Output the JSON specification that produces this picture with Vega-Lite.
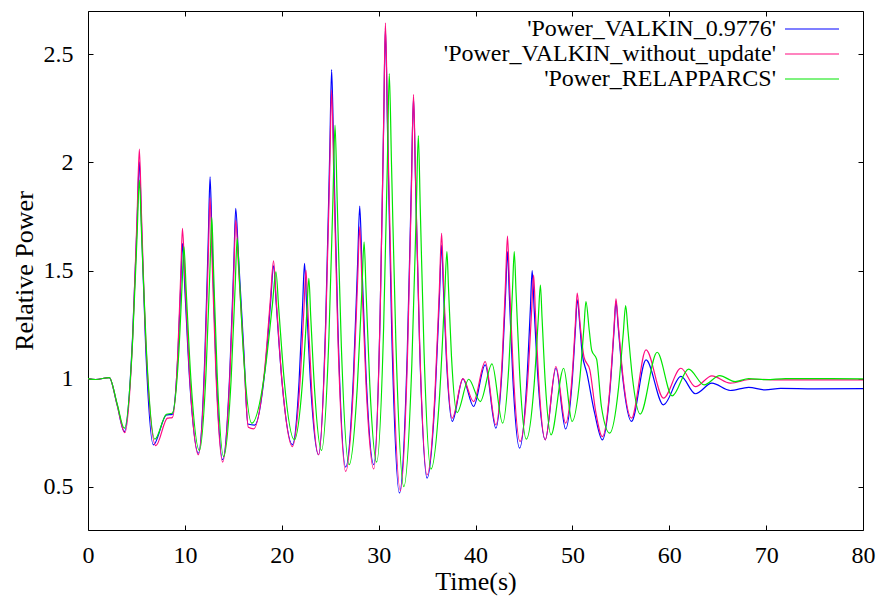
{
  "$schema": "https://vega.github.io/schema/vega-lite/v6.json",
  "width": 775,
  "height": 519,
  "autosize": "none",
  "padding": {"left": 88, "top": 11, "right": 20, "bottom": 67},
  "background": "white",
  "config": {
    "view": {"stroke": "#000", "strokeWidth": 1},
    "font": "Liberation Serif",
    "axis": {
      "labelFont": "Liberation Serif", "titleFont": "Liberation Serif",
      "labelFontSize": 24, "titleFontSize": 26, "titleFontWeight": "normal",
      "labelColor": "#000", "titleColor": "#000", "grid": false, "domain": false,
      "tickColor": "#000", "tickSize": 5, "tickWidth": 1, "offset": -5,
      "labelFlush": false, "labelOverlap": false, "labelBound": false
    },
    "legend": {"labelFont": "Liberation Serif"}
  },
  "data": {"name": "d"},
  "datasets": {
    "d": [
      {"s":"B","t":0,"v":1.0},{"s":"B","t":0.8,"v":0.996},{"s":"B","t":2.2,"v":1.005},{"s":"B","t":3.0,"v":0.88},{"s":"B","t":3.75,"v":0.755},
      {"s":"B","t":4.6,"v":1.192},{"s":"B","t":5.07,"v":1.728},{"s":"B","t":5.3,"v":2.003},{"s":"B","t":5.52,"v":1.715},{"s":"B","t":5.95,"v":1.152},{"s":"B","t":6.75,"v":0.694},
      {"s":"B","t":8.1,"v":0.832},{"s":"B","t":8.7,"v":0.835},{"s":"B","t":9.28,"v":1.112},{"s":"B","t":9.59,"v":1.452},{"s":"B","t":9.75,"v":1.626},{"s":"B","t":10.0,"v":1.412},{"s":"B","t":10.49,"v":0.995},{"s":"B","t":11.4,"v":0.655},
      {"s":"B","t":12.06,"v":1.102},{"s":"B","t":12.42,"v":1.652},{"s":"B","t":12.6,"v":1.933},{"s":"B","t":12.8,"v":1.645},{"s":"B","t":13.19,"v":1.083},{"s":"B","t":13.9,"v":0.625},
      {"s":"B","t":14.64,"v":1.032},{"s":"B","t":15.05,"v":1.531},{"s":"B","t":15.25,"v":1.787},{"s":"B","t":15.53,"v":1.567},{"s":"B","t":16.08,"v":1.136},{"s":"B","t":16.5,"v":0.79},{"s":"B","t":17.2,"v":0.785},
      {"s":"B","t":18.27,"v":1.043},{"s":"B","t":18.86,"v":1.359},{"s":"B","t":19.15,"v":1.521},{"s":"B","t":19.44,"v":1.339},{"s":"B","t":20.03,"v":0.983},{"s":"B","t":21.1,"v":0.694},
      {"s":"B","t":21.79,"v":0.988},{"s":"B","t":22.16,"v":1.348},{"s":"B","t":22.35,"v":1.533},{"s":"B","t":22.57,"v":1.338},{"s":"B","t":23.0,"v":0.958},{"s":"B","t":23.8,"v":0.648},
      {"s":"B","t":24.54,"v":1.271},{"s":"B","t":24.95,"v":2.037},{"s":"B","t":25.15,"v":2.429},{"s":"B","t":25.37,"v":2.025},{"s":"B","t":25.8,"v":1.234},{"s":"B","t":26.6,"v":0.591},
      {"s":"B","t":27.4,"v":1.013},{"s":"B","t":27.83,"v":1.532},{"s":"B","t":28.05,"v":1.798},{"s":"B","t":28.27,"v":1.535},{"s":"B","t":28.7,"v":1.021},{"s":"B","t":29.5,"v":0.602},
      {"s":"B","t":30.16,"v":1.308},{"s":"B","t":30.52,"v":2.176},{"s":"B","t":30.7,"v":2.62},{"s":"B","t":30.92,"v":2.147},{"s":"B","t":31.35,"v":1.223},{"s":"B","t":32.15,"v":0.471},
      {"s":"B","t":32.95,"v":1.111},{"s":"B","t":33.38,"v":1.898},{"s":"B","t":33.6,"v":2.3},{"s":"B","t":33.81,"v":1.913},{"s":"B","t":34.23,"v":1.156},{"s":"B","t":35.0,"v":0.54},
      {"s":"B","t":35.83,"v":0.917},{"s":"B","t":36.28,"v":1.381},{"s":"B","t":36.5,"v":1.618},{"s":"B","t":36.67,"v":1.438},{"s":"B","t":37.0,"v":1.088},{"s":"B","t":37.6,"v":0.802},
      {"s":"B","t":38.7,"v":0.999},{"s":"B","t":39.8,"v":0.871},{"s":"B","t":41.0,"v":1.064},{"s":"B","t":42.1,"v":0.771},
      {"s":"B","t":42.76,"v":1.057},{"s":"B","t":43.12,"v":1.407},{"s":"B","t":43.3,"v":1.587},{"s":"B","t":43.49,"v":1.387},{"s":"B","t":43.86,"v":0.997},{"s":"B","t":44.55,"v":0.679},
      {"s":"B","t":45.27,"v":0.966},{"s":"B","t":45.66,"v":1.319},{"s":"B","t":45.85,"v":1.499},{"s":"B","t":46.05,"v":1.327},{"s":"B","t":46.46,"v":0.991},{"s":"B","t":47.2,"v":0.717},
      {"s":"B","t":48.3,"v":1.048},{"s":"B","t":49.3,"v":0.767},{"s":"B","t":49.96,"v":0.976},{"s":"B","t":50.32,"v":1.233},{"s":"B","t":50.5,"v":1.364},{"s":"B","t":50.8,"v":1.23},{"s":"B","t":51.0,"v":1.12},{"s":"B","t":51.5,"v":1.025},{"s":"B","t":52.3,"v":0.84},{"s":"B","t":53.1,"v":0.717},
      {"s":"B","t":53.87,"v":0.941},{"s":"B","t":54.29,"v":1.215},{"s":"B","t":54.5,"v":1.356},{"s":"B","t":54.74,"v":1.234},{"s":"B","t":55.22,"v":0.996},{"s":"B","t":56.1,"v":0.802},
      {"s":"B","t":57.6,"v":1.087},{"s":"B","t":59.4,"v":0.879},{"s":"B","t":61.2,"v":1.01},{"s":"B","t":62.7,"v":0.93},{"s":"B","t":64.4,"v":0.979},{"s":"B","t":66.3,"v":0.945},{"s":"B","t":68.2,"v":0.96},{"s":"B","t":69.9,"v":0.948},{"s":"B","t":71.5,"v":0.955},{"s":"B","t":75,"v":0.953},{"s":"B","t":80,"v":0.954},

      {"s":"P","t":0,"v":1.0},{"s":"P","t":0.8,"v":0.996},{"s":"P","t":2.2,"v":1.005},{"s":"P","t":3.0,"v":0.88},{"s":"P","t":3.8,"v":0.75},
      {"s":"P","t":4.63,"v":1.209},{"s":"P","t":5.08,"v":1.773},{"s":"P","t":5.3,"v":2.061},{"s":"P","t":5.52,"v":1.759},{"s":"P","t":5.97,"v":1.17},{"s":"P","t":7.0,"v":0.69},
      {"s":"P","t":8.2,"v":0.817},{"s":"P","t":8.7,"v":0.82},{"s":"P","t":9.28,"v":1.126},{"s":"P","t":9.59,"v":1.503},{"s":"P","t":9.75,"v":1.695},{"s":"P","t":10.0,"v":1.465},{"s":"P","t":10.49,"v":1.014},{"s":"P","t":11.4,"v":0.648},
      {"s":"P","t":12.06,"v":1.064},{"s":"P","t":12.42,"v":1.575},{"s":"P","t":12.6,"v":1.836},{"s":"P","t":12.8,"v":1.567},{"s":"P","t":13.19,"v":1.042},{"s":"P","t":13.9,"v":0.614},
      {"s":"P","t":14.64,"v":1.006},{"s":"P","t":15.05,"v":1.487},{"s":"P","t":15.25,"v":1.733},{"s":"P","t":15.53,"v":1.521},{"s":"P","t":16.08,"v":1.106},{"s":"P","t":16.55,"v":0.775},{"s":"P","t":17.1,"v":0.768},
      {"s":"P","t":18.23,"v":1.04},{"s":"P","t":18.84,"v":1.374},{"s":"P","t":19.15,"v":1.545},{"s":"P","t":19.44,"v":1.356},{"s":"P","t":20.03,"v":0.987},{"s":"P","t":21.1,"v":0.686},
      {"s":"P","t":21.87,"v":0.972},{"s":"P","t":22.29,"v":1.322},{"s":"P","t":22.5,"v":1.502},{"s":"P","t":22.7,"v":1.314},{"s":"P","t":23.09,"v":0.947},{"s":"P","t":23.8,"v":0.648},
      {"s":"P","t":24.54,"v":1.238},{"s":"P","t":24.95,"v":1.963},{"s":"P","t":25.15,"v":2.334},{"s":"P","t":25.37,"v":1.946},{"s":"P","t":25.8,"v":1.188},{"s":"P","t":26.6,"v":0.571},
      {"s":"P","t":27.4,"v":0.967},{"s":"P","t":27.83,"v":1.453},{"s":"P","t":28.05,"v":1.702},{"s":"P","t":28.27,"v":1.456},{"s":"P","t":28.7,"v":0.974},{"s":"P","t":29.5,"v":0.582},
      {"s":"P","t":30.16,"v":1.304},{"s":"P","t":30.52,"v":2.191},{"s":"P","t":30.7,"v":2.645},{"s":"P","t":30.93,"v":2.169},{"s":"P","t":31.4,"v":1.239},{"s":"P","t":32.25,"v":0.482},
      {"s":"P","t":32.99,"v":1.123},{"s":"P","t":33.4,"v":1.911},{"s":"P","t":33.6,"v":2.314},{"s":"P","t":33.81,"v":1.927},{"s":"P","t":34.23,"v":1.171},{"s":"P","t":35.0,"v":0.555},
      {"s":"P","t":35.83,"v":0.946},{"s":"P","t":36.28,"v":1.426},{"s":"P","t":36.5,"v":1.672},{"s":"P","t":36.67,"v":1.484},{"s":"P","t":37.0,"v":1.116},{"s":"P","t":37.6,"v":0.817},
      {"s":"P","t":38.7,"v":1.0},{"s":"P","t":39.8,"v":0.894},{"s":"P","t":41.0,"v":1.079},{"s":"P","t":42.1,"v":0.786},
      {"s":"P","t":42.76,"v":1.092},{"s":"P","t":43.12,"v":1.467},{"s":"P","t":43.3,"v":1.659},{"s":"P","t":43.5,"v":1.45},{"s":"P","t":43.89,"v":1.042},{"s":"P","t":44.6,"v":0.709},
      {"s":"P","t":45.37,"v":0.979},{"s":"P","t":45.79,"v":1.31},{"s":"P","t":46.0,"v":1.479},{"s":"P","t":46.18,"v":1.311},{"s":"P","t":46.54,"v":0.984},{"s":"P","t":47.2,"v":0.717},
      {"s":"P","t":48.3,"v":1.056},{"s":"P","t":49.3,"v":0.794},{"s":"P","t":49.96,"v":1.004},{"s":"P","t":50.32,"v":1.263},{"s":"P","t":50.5,"v":1.395},{"s":"P","t":50.8,"v":1.25},{"s":"P","t":51.2,"v":1.1},{"s":"P","t":51.8,"v":1.04},{"s":"P","t":52.4,"v":0.85},{"s":"P","t":53.1,"v":0.732},
      {"s":"P","t":53.87,"v":0.955},{"s":"P","t":54.29,"v":1.229},{"s":"P","t":54.5,"v":1.369},{"s":"P","t":54.74,"v":1.248},{"s":"P","t":55.22,"v":1.01},{"s":"P","t":56.1,"v":0.817},
      {"s":"P","t":57.6,"v":1.133},{"s":"P","t":59.4,"v":0.91},{"s":"P","t":61.2,"v":1.048},{"s":"P","t":62.7,"v":0.963},{"s":"P","t":64.4,"v":1.013},{"s":"P","t":66.3,"v":0.979},{"s":"P","t":68.5,"v":0.997},{"s":"P","t":72,"v":0.994},{"s":"P","t":80,"v":0.994},

      {"s":"G","t":0,"v":1.0},{"s":"G","t":0.8,"v":0.996},{"s":"G","t":2.2,"v":1.005},{"s":"G","t":3.0,"v":0.885},{"s":"G","t":3.75,"v":0.771},
      {"s":"G","t":4.6,"v":1.172},{"s":"G","t":5.07,"v":1.666},{"s":"G","t":5.3,"v":1.918},{"s":"G","t":5.54,"v":1.654},{"s":"G","t":6.02,"v":1.139},{"s":"G","t":6.9,"v":0.72},
      {"s":"G","t":8.1,"v":0.835},{"s":"G","t":8.7,"v":0.84},{"s":"G","t":9.36,"v":1.11},{"s":"G","t":9.72,"v":1.441},{"s":"G","t":9.9,"v":1.61},{"s":"G","t":10.14,"v":1.403},{"s":"G","t":10.62,"v":0.998},{"s":"G","t":11.5,"v":0.668},
      {"s":"G","t":12.2,"v":1.045},{"s":"G","t":12.59,"v":1.509},{"s":"G","t":12.78,"v":1.746},{"s":"G","t":12.96,"v":1.503},{"s":"G","t":13.33,"v":1.027},{"s":"G","t":14.0,"v":0.64},
      {"s":"G","t":14.77,"v":0.993},{"s":"G","t":15.19,"v":1.427},{"s":"G","t":15.4,"v":1.649},{"s":"G","t":15.63,"v":1.461},{"s":"G","t":16.08,"v":1.093},{"s":"G","t":16.9,"v":0.794},
      {"s":"G","t":18.28,"v":1.039},{"s":"G","t":19.03,"v":1.34},{"s":"G","t":19.4,"v":1.494},{"s":"G","t":19.69,"v":1.323},{"s":"G","t":20.26,"v":0.989},{"s":"G","t":21.3,"v":0.717},
      {"s":"G","t":22.13,"v":0.978},{"s":"G","t":22.58,"v":1.3},{"s":"G","t":22.8,"v":1.464},{"s":"G","t":22.99,"v":1.289},{"s":"G","t":23.39,"v":0.947},{"s":"G","t":24.1,"v":0.668},
      {"s":"G","t":24.87,"v":1.194},{"s":"G","t":25.29,"v":1.841},{"s":"G","t":25.5,"v":2.172},{"s":"G","t":25.72,"v":1.827},{"s":"G","t":26.15,"v":1.152},{"s":"G","t":26.95,"v":0.602},
      {"s":"G","t":27.8,"v":0.963},{"s":"G","t":28.27,"v":1.406},{"s":"G","t":28.5,"v":1.633},{"s":"G","t":28.7,"v":1.409},{"s":"G","t":29.09,"v":0.971},{"s":"G","t":29.8,"v":0.614},
      {"s":"G","t":30.52,"v":1.243},{"s":"G","t":30.91,"v":2.016},{"s":"G","t":31.1,"v":2.411},{"s":"G","t":31.33,"v":1.991},{"s":"G","t":31.78,"v":1.17},{"s":"G","t":32.6,"v":0.501},
      {"s":"G","t":33.43,"v":1.069},{"s":"G","t":33.88,"v":1.767},{"s":"G","t":34.1,"v":2.124},{"s":"G","t":34.3,"v":1.785},{"s":"G","t":34.69,"v":1.122},{"s":"G","t":35.4,"v":0.582},
      {"s":"G","t":36.31,"v":0.934},{"s":"G","t":36.8,"v":1.366},{"s":"G","t":37.05,"v":1.587},{"s":"G","t":37.21,"v":1.423},{"s":"G","t":37.52,"v":1.103},{"s":"G","t":38.1,"v":0.843},
      {"s":"G","t":39.3,"v":0.997},{"s":"G","t":40.5,"v":0.894},{"s":"G","t":41.7,"v":1.068},{"s":"G","t":42.8,"v":0.794},
      {"s":"G","t":43.46,"v":1.072},{"s":"G","t":43.82,"v":1.413},{"s":"G","t":44.0,"v":1.587},{"s":"G","t":44.19,"v":1.396},{"s":"G","t":44.56,"v":1.023},{"s":"G","t":45.25,"v":0.72},
      {"s":"G","t":46.05,"v":0.97},{"s":"G","t":46.48,"v":1.276},{"s":"G","t":46.7,"v":1.433},{"s":"G","t":46.87,"v":1.281},{"s":"G","t":47.2,"v":0.983},{"s":"G","t":47.8,"v":0.74},
      {"s":"G","t":49.1,"v":1.048},{"s":"G","t":49.97,"v":0.802},{"s":"G","t":50.76,"v":0.996},{"s":"G","t":51.19,"v":1.234},{"s":"G","t":51.4,"v":1.356},{"s":"G","t":51.75,"v":1.22},{"s":"G","t":52.0,"v":1.13},{"s":"G","t":52.5,"v":1.09},{"s":"G","t":53.0,"v":0.87},{"s":"G","t":53.85,"v":0.748},
      {"s":"G","t":54.76,"v":0.955},{"s":"G","t":55.25,"v":1.208},{"s":"G","t":55.5,"v":1.338},{"s":"G","t":55.73,"v":1.228},{"s":"G","t":56.18,"v":1.012},{"s":"G","t":57.0,"v":0.836},
      {"s":"G","t":58.75,"v":1.122},{"s":"G","t":60.3,"v":0.92},{"s":"G","t":62.0,"v":1.044},{"s":"G","t":63.6,"v":0.971},{"s":"G","t":65.2,"v":1.014},{"s":"G","t":66.8,"v":0.986},{"s":"G","t":68.2,"v":1.0},{"s":"G","t":70,"v":0.995},{"s":"G","t":72,"v":1.0},{"s":"G","t":80,"v":0.999}
    ]
  },
  "layer": [
    {
      "layer": [
        {
          "transform": [{"filter": "datum.s == 'B'"}],
          "mark": {"type": "line", "interpolate": "monotone", "strokeWidth": 1.2},
          "encoding": {
            "x": {"field": "t", "type": "quantitative", "scale": {"domain": [0, 80], "nice": false},
                  "axis": {"orient": "bottom", "title": "Time(s)", "values": [0,10,20,30,40,50,60,70,80], "labelPadding": 13, "titlePadding": 1}},
            "y": {"field": "v", "type": "quantitative", "scale": {"domain": [0.3, 2.7], "nice": false, "zero": false},
                  "axis": {"orient": "left", "title": "Relative Power", "values": [0.5,1,1.5,2,2.5], "labelExpr": "datum.value", "labelPadding": 15, "titlePadding": 6}},
            "color": {"field": "s", "type": "nominal",
                      "scale": {"domain": ["B","P","G"], "range": ["#0000ff","#ff0a80","#00e600"]},
                      "legend": {"orient": "none", "legendX": 696, "legendY": 5, "title": null,
                                 "symbolType": "M-1,0H3.5", "symbolSize": 576, "symbolStrokeWidth": 1.2, "symbolFillColor": "transparent",
                                 "labelFontSize": 24, "labelColor": "#000",
                                 "labelAlign": "right", "labelOffset": -34, "rowPadding": 0, "padding": 0,
                                 "labelLimit": 0,
                                 "labelExpr": "datum.value == 'B' ? \"'Power_VALKIN_0.9776'\" : datum.value == 'P' ? \"'Power_VALKIN_without_update'\" : \"'Power_RELAPPARCS'\""}}
          }
        },
        {
          "transform": [{"filter": "datum.s == 'P'"}],
          "mark": {"type": "line", "interpolate": "monotone", "strokeWidth": 1.2},
          "encoding": {
            "x": {"field": "t", "type": "quantitative"},
            "y": {"field": "v", "type": "quantitative"},
            "color": {"field": "s", "type": "nominal"}
          }
        },
        {
          "transform": [{"filter": "datum.s == 'G'"}],
          "mark": {"type": "line", "interpolate": "monotone", "strokeWidth": 1.2},
          "encoding": {
            "x": {"field": "t", "type": "quantitative"},
            "y": {"field": "v", "type": "quantitative"},
            "color": {"field": "s", "type": "nominal"}
          }
        }
      ]
    },
    {
      "mark": {"type": "line", "opacity": 0},
      "encoding": {
        "x": {"field": "t", "type": "quantitative", "axis": {"orient": "top", "labels": false, "title": null, "values": [0,10,20,30,40,50,60,70,80]}},
        "y": {"field": "v", "type": "quantitative", "axis": {"orient": "right", "labels": false, "title": null, "values": [0.5,1,1.5,2,2.5]}},
        "detail": {"field": "s"}
      }
    }
  ],
  "resolve": {"axis": {"x": "independent", "y": "independent"}}
}
